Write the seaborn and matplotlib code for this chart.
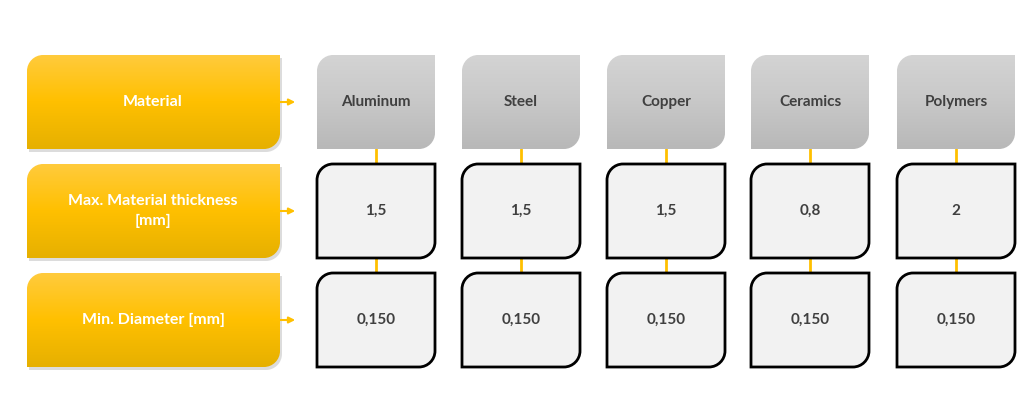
import numpy as np
import seaborn as sns
import matplotlib.pyplot as plt
from matplotlib.path import Path
from matplotlib.patches import PathPatch
from matplotlib.colors import LinearSegmentedColormap

# table content
row_labels = ["Material", "Max. Material thickness\n[mm]", "Min. Diameter [mm]"]
materials = ["Aluminum", "Steel", "Copper", "Ceramics", "Polymers"]
thickness = ["1,5", "1,5", "1,5", "0,8", "2"]
diameter = ["0,150", "0,150", "0,150", "0,150", "0,150"]

sns.set_theme(style="white")
plt.rcParams['font.family'] = ['Lato', 'DejaVu Sans']

fig = plt.figure(figsize=(10.24, 4.11), dpi=100)
ax = fig.add_axes([0, 0, 1, 1])
ax.set_xlim(0, 1024)
ax.set_ylim(411, 0)
ax.axis("off")


def shape(x0, y0, w, h, r):
    # rounded top-left and bottom-right corners only
    k = 0.45
    verts = [(x0 + r, y0), (x0 + w, y0), (x0 + w, y0 + h - r),
             (x0 + w, y0 + h - r * k), (x0 + w - r * k, y0 + h), (x0 + w - r, y0 + h),
             (x0, y0 + h), (x0, y0 + r),
             (x0, y0 + r * k), (x0 + r * k, y0), (x0 + r, y0), (x0 + r, y0)]
    codes = [Path.MOVETO, Path.LINETO, Path.LINETO,
             Path.CURVE4, Path.CURVE4, Path.CURVE4,
             Path.LINETO, Path.LINETO,
             Path.CURVE4, Path.CURVE4, Path.CURVE4, Path.CLOSEPOLY]
    return Path(verts, codes)


def grad_box(x0, y0, w, h, r, colors, shadow=False):
    p = shape(x0, y0, w, h, r)
    if shadow:
        ax.add_patch(PathPatch(shape(x0 + 2, y0 + 3, w, h, r), fc="#bbbbbb",
                               ec="none", alpha=0.5, zorder=1))
    patch = PathPatch(p, fc="none", ec="none", zorder=2)
    ax.add_patch(patch)
    cmap = LinearSegmentedColormap.from_list("g", colors)
    im = ax.imshow(np.linspace(0, 1, 100).reshape(-1, 1), cmap=cmap, aspect="auto",
                   extent=(x0, x0 + w, y0 + h, y0), origin="upper", zorder=2)
    im.set_clip_path(patch)


row_y = [55, 164, 273]
box_h = 94
col_x = [317, 462, 607, 751, 897]
col_w = 118
gold = "#ffc000"

for i, lab in enumerate(row_labels):
    y = row_y[i]
    grad_box(27, y, 253, box_h, 16, ["#ffcb3d", "#ffc000", "#e6b000"], shadow=True)
    ax.text(153, y + box_h / 2, lab, color="white", fontsize=11.5, fontweight="bold",
            ha="center", va="center", linespacing=1.5, zorder=3)
    ax.annotate("", xy=(298, y + box_h / 2), xytext=(270, y + box_h / 2),
                arrowprops=dict(arrowstyle="-|>", color=gold, lw=1.5,
                                mutation_scale=9), zorder=3)

for j, m in enumerate(materials):
    x = col_x[j]
    cx = x + col_w / 2
    ax.plot([cx, cx], [row_y[0] + box_h, row_y[2]], color=gold, lw=2, zorder=0)
    grad_box(x, row_y[0], col_w, box_h, 16, ["#d4d4d4", "#c8c8c8", "#b8b8b8"])
    ax.text(cx, row_y[0] + box_h / 2, m, color="#404040", fontsize=11,
            fontweight="bold", ha="center", va="center", zorder=3)
    for y, val in [(row_y[1], thickness[j]), (row_y[2], diameter[j])]:
        ax.add_patch(PathPatch(shape(x, y, col_w, box_h, 16), fc="#f2f2f2",
                               ec="black", lw=2, zorder=2))
        ax.text(cx, y + box_h / 2, val, color="#404040", fontsize=11,
                fontweight="bold", ha="center", va="center", zorder=3)

fig.savefig("out.png", dpi=100)
